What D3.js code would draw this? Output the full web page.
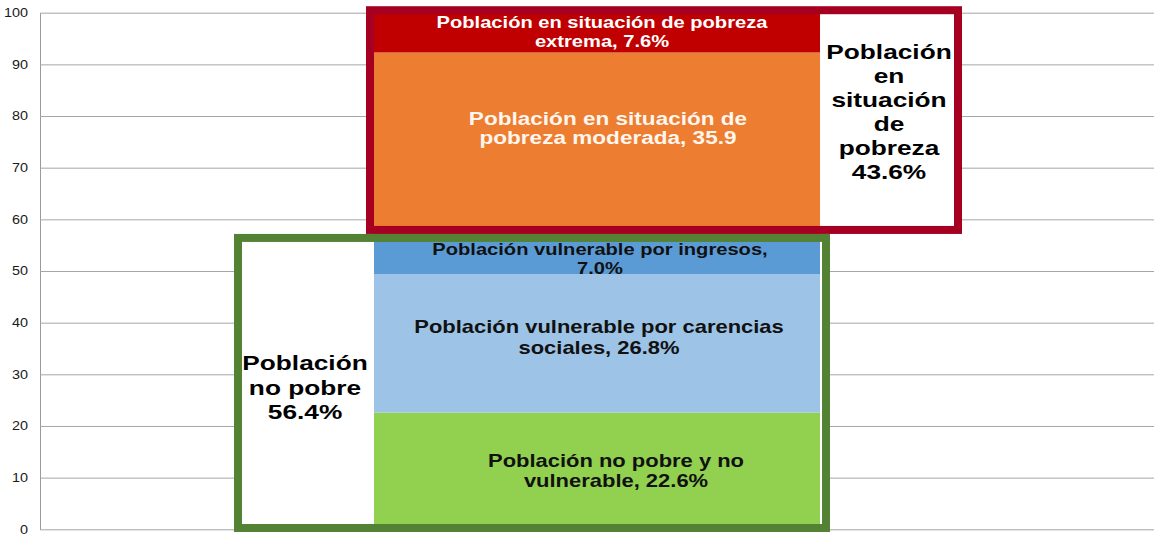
<!DOCTYPE html>
<html>
<head>
<meta charset="utf-8">
<script src="https://cdn.jsdelivr.net/npm/d3@7"></script>
<style>
  body { margin: 0; background: #fff; }
  svg { display: block; font-family: Arial, "Liberation Sans", sans-serif; }
</style>
</head>
<body>
<div id="chart"></div>
<script>
// data
var barCategory = ['Total'];
var categories = [
  'Población no pobre y no vulnerable',
  'Población vulnerable por carencias sociales',
  'Población vulnerable por ingresos',
  'Población en situación de pobreza moderada',
  'Población en situación de pobreza extrema'
];
var values = [22.6, 26.8, 7.0, 35.9, 7.6];
var labelLines = [
  ['Población no pobre y no', 'vulnerable, 22.6%'],
  ['Población vulnerable por carencias', 'sociales, 26.8%'],
  ['Población vulnerable por ingresos,', '7.0%'],
  ['Población en situación de', 'pobreza moderada, 35.9'],
  ['Población en situación de pobreza', 'extrema, 7.6%']
];
var groupNames = ['Población no pobre', 'Población en situación de pobreza'];
var groupRanges = [[0, 56.4], [56.4, 99.9]];
var groupLines = [
  ['Población', 'no pobre', '56.4%'],
  ['Población', 'en', 'situación', 'de', 'pobreza', '43.6%']
];
var yTicks = [0, 10, 20, 30, 40, 50, 60, 70, 80, 90, 100];

// styles
var colors = ['#92D050', '#9DC3E6', '#5B9BD5', '#ED7D31', '#C00000'];
var textColors = ['#111', '#111', '#111', '#FFF6EE', '#fff'];
var labelStyle = [
  { size: 18, lh: 20.5, dx: 19, dy: 0 },
  { size: 18, lh: 20.5, dx: 2, dy: -6 },
  { size: 16.5, lh: 19, dx: 3, dy: 2.5 },
  { size: 18.5, lh: 19.5, dx: 11, dy: -17 },
  { size: 16.5, lh: 18.5, dx: 5, dy: -1 }
];
var stretch = 1.22;

var size = {
  width: 1155,
  height: 536,
  margin: { top: 12.7, right: 1, bottom: 6.7, left: 40 }
};
var margin = size.margin;
var width = size.width - margin.left - margin.right;
var height = size.height - margin.top - margin.bottom;

var x = d3.scaleBand()
  .domain(barCategory)
  .range([0, width])
  .paddingInner(0)
  .paddingOuter(0.7489);

var y = d3.scaleLinear()
  .domain([0, 100])
  .range([height, 0]);

var row = { cat: barCategory[0] };
categories.forEach((c, i) => row[c] = values[i]);
var series = d3.stack().keys(categories)([row]);

var svg = d3.select('#chart').append('svg')
  .attr('width', size.width)
  .attr('height', size.height);

var chart = svg.append('g')
  .attr('transform', `translate(${margin.left}, ${margin.top})`);

// axis + gridlines
var yAxis = d3.axisLeft(y)
  .tickValues(yTicks)
  .tickSize(-width)
  .tickSizeOuter(0)
  .tickPadding(12);

var gAxis = chart.append('g')
  .attr('class', 'axis y')
  .call(yAxis);
gAxis.select('.domain').attr('stroke', '#9a9a9a');
gAxis.selectAll('.tick line').attr('stroke', '#a6a6a6');
gAxis.selectAll('.tick text')
  .attr('fill', '#1a1a1a')
  .attr('font-size', 12)
  .attr('font-family', 'Arial, "Liberation Sans", sans-serif')
  .attr('x', -12 / 1.2)
  .attr('transform', 'scale(1.2,1)');

var barLeft = x(barCategory[0]);
var barRight = barLeft + x.bandwidth();

// group boxes (no pobre / pobreza)
var boxes = [
  { stroke: '#548235', x0: barLeft - 136, x1: barRight + 6,
    y0: y(groupRanges[0][1]), y1: y(groupRanges[0][0]) - 1.3,
    tx: barLeft - 69, dy: 3.6, lh: 24.5 },
  { stroke: '#A50021', x0: barLeft - 4, x1: barRight + 138,
    y0: y(groupRanges[1][1]) - 3, y1: y(groupRanges[1][0]) - 8,
    tx: barRight + 69, dy: -13.5, lh: 24 }
];

chart.selectAll('.box-fill')
  .data(boxes)
  .enter().append('rect')
  .attr('class', 'box-fill')
  .attr('x', d => d.x0)
  .attr('y', d => d.y0)
  .attr('width', d => d.x1 - d.x0)
  .attr('height', d => d.y1 - d.y0)
  .attr('fill', '#fff');

// stacked bar
chart.selectAll('.bar')
  .data(series)
  .enter().append('rect')
  .attr('class', 'bar')
  .attr('x', barLeft)
  .attr('y', d => y(d[0][1]))
  .attr('width', x.bandwidth())
  .attr('height', d => y(d[0][0]) - y(d[0][1]))
  .attr('fill', (d, i) => colors[i]);

chart.selectAll('.box')
  .data(boxes)
  .enter().append('rect')
  .attr('class', 'box')
  .attr('x', d => d.x0)
  .attr('y', d => d.y0)
  .attr('width', d => d.x1 - d.x0)
  .attr('height', d => d.y1 - d.y0)
  .attr('fill', 'none')
  .attr('stroke', d => d.stroke)
  .attr('stroke-width', 8);

// segment labels
series.forEach((s, i) => {
  var st = labelStyle[i];
  var lines = labelLines[i];
  var cy = (y(s[0][0]) + y(s[0][1])) / 2;
  var first = cy - (lines.length - 1) * st.lh / 2 + 0.35 * st.size + st.dy;
  var cx = barLeft + x.bandwidth() / 2 + st.dx;
  var t = chart.append('text')
    .attr('transform', `translate(${cx}, ${first}) scale(${stretch},1)`)
    .attr('text-anchor', 'middle')
    .attr('font-weight', 'bold')
    .attr('font-size', st.size)
    .attr('fill', textColors[i]);
  lines.forEach((l, j) => {
    t.append('tspan').attr('x', 0).attr('dy', j ? st.lh : 0).text(l);
  });
});

// group labels
boxes.forEach((b, i) => {
  var lines = groupLines[i];
  var r = groupRanges[i];
  var cy = (y(r[0]) + y(r[1])) / 2;
  var first = cy - (lines.length - 1) * b.lh / 2 + 0.35 * 21 + b.dy;
  var t = chart.append('text')
    .attr('transform', `translate(${b.tx}, ${first}) scale(${stretch + 0.03},1)`)
    .attr('text-anchor', 'middle')
    .attr('font-weight', 'bold')
    .attr('font-size', 21)
    .attr('fill', '#000');
  lines.forEach((l, j) => {
    t.append('tspan').attr('x', 0).attr('dy', j ? b.lh : 0).text(l);
  });
});
</script>
</body>
</html>
